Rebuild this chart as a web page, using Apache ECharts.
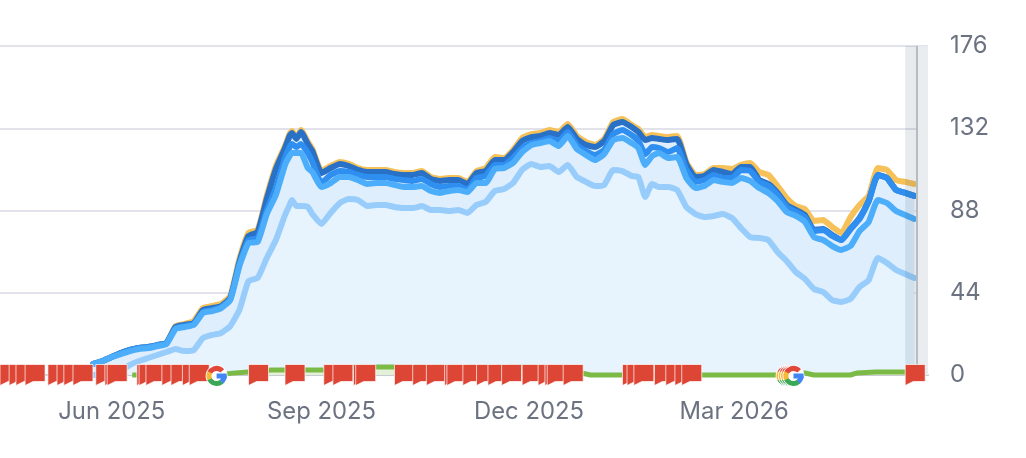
<!DOCTYPE html>
<html>
<head>
<meta charset="utf-8">
<style>html,body{margin:0;padding:0;background:#fff}#chart{width:1026px;height:458px}</style>
<script src="https://cdn.jsdelivr.net/npm/echarts@6/dist/echarts.min.js"></script>
</head>
<body>
<div id="chart"></div>
<script>
// Sample dates shared by the five visibility series.
const dates = [
  '2025-05-24','2025-05-28','2025-06-01','2025-06-05','2025-06-09','2025-06-13','2025-06-17','2025-06-21','2025-06-25','2025-06-29',
  '2025-07-03','2025-07-07','2025-07-11','2025-07-15','2025-07-19','2025-07-23','2025-07-27','2025-07-31',
  '2025-08-04','2025-08-08','2025-08-12','2025-08-16','2025-08-18','2025-08-19','2025-08-21','2025-08-23','2025-08-26','2025-08-28',
  '2025-09-01','2025-09-05','2025-09-09','2025-09-13','2025-09-17','2025-09-21','2025-09-25','2025-09-29',
  '2025-10-03','2025-10-07','2025-10-11','2025-10-15','2025-10-19','2025-10-23','2025-10-27','2025-10-31',
  '2025-11-04','2025-11-08','2025-11-12','2025-11-16','2025-11-20','2025-11-24','2025-11-28',
  '2025-12-02','2025-12-06','2025-12-10','2025-12-14','2025-12-18','2025-12-22','2025-12-26','2025-12-30',
  '2026-01-03','2026-01-07','2026-01-11','2026-01-15','2026-01-18','2026-01-21','2026-01-24','2026-01-27','2026-01-31',
  '2026-02-04','2026-02-08','2026-02-12','2026-02-16','2026-02-20','2026-02-24','2026-02-28',
  '2026-03-04','2026-03-08','2026-03-12','2026-03-16','2026-03-20','2026-03-24','2026-03-28',
  '2026-04-01','2026-04-05','2026-04-09','2026-04-13','2026-04-17','2026-04-21','2026-04-25','2026-04-29',
  '2026-05-03','2026-05-07','2026-05-11','2026-05-15','2026-05-19'
];
const orangeValues = [
  5.9,7.5,9.6,11.8,13.4,14.4,15,16,17.1,26.2,
  27.3,28.9,35.8,36.9,38,42.3,62.1,76,
  77.6,95.8,111.8,122.5,128.9,130.5,127.3,131.1,124.7,120.9,
  109.1,111.8,114,112.9,110.7,109.7,109.7,109.7,
  108.6,108.1,108.1,109.1,105.9,104.9,105.4,105.4,
  103.3,109.1,110.7,116.6,116.1,120.4,126.8,
  128.9,129.5,131.1,130,134.3,127.9,124.7,123.1,
  126.3,135.4,137,133.8,131.6,127.3,128.4,127.9,127.3,
  127.9,114,107,107.5,110.7,110.7,110.2,
  112.4,113.4,108.6,107,101.1,94.7,90.4,
  88.8,82.4,82.9,79.2,76,84.5,91,95.8,
  110.7,109.7,104.3,103.3,102.2
];
const darkValues = [
  5.9,7.5,9.6,11.8,13.4,14.4,15,16,17.1,25.7,
  26.8,27.8,34.8,35.8,36.9,41.2,60.5,74.4,
  76.5,94.2,110.2,121.4,127.9,129.5,126.3,130,123.6,119.8,
  108.1,110.7,112.9,111.8,109.7,108.6,108.6,108.6,
  107.5,107,107,108.1,104.9,103.8,104.3,104.3,
  102.2,108.1,109.1,115,115,119.3,125.2,
  127.3,127.9,129.5,128.4,132.7,126.3,123,122,
  125.2,133.8,135.4,132.7,130,125.7,126.8,126.3,125.7,
  126.3,112.9,105.9,106.5,109.7,108.6,107.5,
  111.3,111.3,104.3,102.2,97.4,91,88.3,
  85.6,77.6,78.1,74.9,72.2,78.1,84,93.1,
  107,105.4,99,97.4,95.8
];
const midValues = [
  5.9,7.5,9.6,11.8,13.4,14.4,15,16,17.1,25.1,
  26.2,27.3,33.7,34.8,36.4,40.7,59.4,72.2,
  73.3,88.3,100,116.1,122,123.6,122,123.6,118.8,114,
  102.7,107,109.1,108.6,107,105.9,105.9,105.9,
  104.9,104.3,103.8,104.9,102.2,100.6,101.1,101.1,
  99,105.4,106.5,112.4,112.4,116.1,121.4,
  124.1,125.2,126.8,125.2,130,123,119.8,117.7,
  120.4,128.9,131.1,128.4,125.2,118.2,122,121.4,119.3,
  121.4,109.7,103.3,104.3,107,105.4,105.4,
  109.7,109.1,103.3,101.1,96.3,89.9,87.2,
  84.5,77,77.6,74.4,72.2,78.1,83.5,93.1,
  107,105.4,99,97.4,95.8
];
const lightValues = [
  5.9,7.5,9.6,11.2,12.8,13.9,14.4,15.5,16.6,24.6,
  25.7,26.8,33.2,34.2,35.8,40.1,58.3,70.6,
  71.2,86.1,96.3,112.4,117.2,118.8,118.8,118.8,110.7,108.6,
  100.6,102.7,105.9,105.9,104.3,102.2,102.7,102.7,
  101.7,100.6,100.6,101.1,98.4,97.4,98.4,99,
  97.9,102.7,102.7,110.2,110.7,113.4,119.3,
  123,124.1,125.2,122.5,127.9,120.9,117.7,115,
  118.2,125.7,126.8,124.1,121.4,112.4,117.2,118.8,116.1,
  116.6,105.4,100,101.1,104.3,103.3,102.7,
  105.4,103.8,100,97.4,93.1,87.2,85.1,
  81.9,73.8,72.2,69,66.9,69,77,81.9,
  93.6,92,87.7,85.6,83.5
];
const paleValues = [
  0,0,0,2.1,5.4,7.5,9.1,10.7,12.3,13.9,
  12.8,13.4,19.8,21.4,22.5,26.2,34.8,50.3,
  51.9,62.6,72.2,85.6,91,93.6,90.4,90.4,89.9,86.1,
  80.8,86.7,92,94.2,93.6,90.4,91,91,
  89.9,89.3,89.3,90.4,88.3,88.3,87.7,88.3,
  86.7,91,92.6,98.4,99.5,102.7,109.7,
  112.9,111.3,111.8,108.6,112.4,105.9,103.3,101.1,
  101.7,109.7,109.1,106.5,105.9,95.2,102.2,100.6,100.6,
  99,89.9,86.1,84.5,85.1,86.1,84,
  78.6,73.8,73.3,72.2,65.8,61,55.1,
  51.4,46,44.4,40.1,39.1,40.7,47.1,50.8,
  62.6,59.9,56.2,54,51.9
];

// Low green series running along the baseline.
const greenDates = ['2025-06-10','2025-07-17','2025-07-24','2025-07-31','2025-08-10','2025-09-10','2025-09-16','2025-09-17','2025-12-17','2025-12-20','2025-12-24','2025-12-28','2026-01-11','2026-02-10','2026-03-27','2026-04-01','2026-04-05','2026-04-21','2026-04-24','2026-05-02','2026-05-20'];
const greenValues = [0,0,1,1.6,2.7,2.7,4.3,4.3,4.3,2.6,1.1,0,0,0,0,1.1,0,0,1.1,1.6,1.6];

// Annotation flags, dated by their pole.
const flagDates = [
  '2025-04-11','2025-04-13','2025-04-17','2025-04-20','2025-04-24','2025-05-04','2025-05-08','2025-05-11','2025-05-15','2025-05-25','2025-05-29','2025-05-30',
  '2025-06-12','2025-06-13','2025-06-16','2025-06-23','2025-06-27','2025-07-02','2025-07-05','2025-07-31','2025-08-16',
  '2025-09-02','2025-09-06','2025-09-15','2025-09-16','2025-10-03','2025-10-11','2025-10-17','2025-10-25','2025-10-26',
  '2025-11-02','2025-11-08','2025-11-13','2025-11-19','2025-11-28','2025-12-05','2025-12-08','2025-12-09','2025-12-16',
  '2026-01-11','2026-01-13','2026-01-16','2026-01-25','2026-01-30','2026-02-03','2026-02-06','2026-05-15'
];
// Google core update markers.
const updateDates = ['2025-07-17','2026-03-24','2026-03-25','2026-03-26','2026-03-27'];

const tickDates = ['2025-06-01','2025-09-01','2025-12-01','2026-03-01'];
const tickLabels = ['Jun 2025','Sep 2025','Dec 2025','Mar 2026'];

const axisMin = '2025-04-13';
const dataEnd = '2026-05-20';
const axisMax = '2026-05-25';
const partialStart = '2026-05-15';

const FLAG_PATH = 'path://M0 0H20V17H8L0 21Z';
const ts = s => Date.parse(s + 'T00:00:00Z');
const pairs = (xs, ys) => xs.map((x, i) => [ts(x), ys[i]]);

function lineSeries(name, values, color, z) {
  return {
    name, type: 'line', data: pairs(dates, values), z,
    symbol: 'none', smooth: 0.15, clip: false,
    lineStyle: { color, width: 6, join: 'round', cap: 'round' }
  };
}
// Filled layer from the baseline up to a series. Layers are painted tallest
// first, and each one lets the gridlines show through.
function fillSeries(name, values, color, opacity, z) {
  return {
    name, type: 'line', data: pairs(dates, values), z,
    symbol: 'none', smooth: 0.15,
    lineStyle: { width: 0 },
    areaStyle: { color, opacity }
  };
}

// Draws the multicoloured G badge for one update date.
function renderUpdate(params, api) {
  const [cx, cy] = api.coord([api.value(0), 0]);
  const r = 7.6, w = 5;
  const deg = d => d * Math.PI / 180;
  const arc = (a, b, stroke) => ({
    type: 'arc',
    shape: { cx, cy: cy + 1, r, startAngle: deg(a), endAngle: deg(b), clockwise: true },
    style: { stroke, fill: null, lineWidth: w }
  });
  return {
    type: 'group',
    children: [
      { type: 'circle', shape: { cx, cy: cy + 1, r: 11 }, style: { fill: '#fff' } },
      arc(205, 318, '#e0483a'),
      arc(152, 208, '#f7b93a'),
      arc(48, 155, '#3aa856'),
      arc(0, 50, '#4285f4'),
      { type: 'rect', shape: { x: cx, y: cy + 1 - w / 2, width: r + w / 2, height: w }, style: { fill: '#4285f4' } }
    ]
  };
}

const chart = echarts.init(document.getElementById('chart'), null, { renderer: 'canvas' });
chart.setOption({
  animation: false,
  backgroundColor: '#fff',
  grid: { left: 0, right: 98, top: 46, bottom: 83 },
  xAxis: {
    type: 'value',
    min: ts(axisMin),
    max: ts(axisMax),
    axisLine: { show: true, onZero: true, lineStyle: { color: '#c8cbcf', width: 2 } },
    axisTick: { show: false },
    splitLine: { show: false },
    axisLabel: {
      customValues: tickDates.map(ts),
      margin: 25,
      hideOverlap: false,
      color: '#6b7280',
      fontFamily: 'Inter',
      fontSize: 23.8,
      formatter: v => tickLabels[tickDates.map(ts).indexOf(+v)] || ''
    }
  },
  yAxis: {
    type: 'value',
    position: 'right',
    min: 0,
    max: 176,
    interval: 44,
    axisLine: { show: false },
    axisTick: { show: false },
    splitLine: { show: true, lineStyle: { color: '#e2e3ea', width: 2 } },
    axisLabel: {
      margin: 22,
      color: '#6b7280',
      fontFamily: 'Inter',
      fontSize: 23.8,
      padding: [0, 0, 4, 0]
    }
  },
  series: [
    fillSeries('fill to orange', orangeValues, '#f4f8fe', 0.75, 1),
    fillSeries('fill to dark', darkValues, '#dbebfd', 0.85, 1),
    fillSeries('fill to pale', paleValues, '#e9f4fe', 0.85, 1),
    {
      name: 'green', type: 'line', data: pairs(greenDates, greenValues), z: 2,
      symbol: 'none', clip: false,
      lineStyle: { color: '#7aba45', width: 5, join: 'round' },
      areaStyle: { color: '#e4f0d8', opacity: 1 }
    },
    lineSeries('orange', orangeValues, '#f6c158', 3),
    lineSeries('dark', darkValues, '#2871c6', 4),
    lineSeries('mid', midValues, '#2f8ff0', 5),
    lineSeries('light', lightValues, '#4cadfa', 6),
    lineSeries('pale', paleValues, '#98cdfb', 7),
    {
      name: 'partial period', type: 'line', data: [], z: 8, silent: true,
      markArea: {
        z: 8,
        silent: true,
        itemStyle: { color: 'rgba(40,70,90,0.11)' },
        data: [[{ xAxis: ts(partialStart), yAxis: 0 }, { xAxis: ts(dataEnd), yAxis: 176 }]]
      }
    },
    {
      name: 'future', type: 'line', data: [], z: 8, silent: true,
      markArea: {
        z: 8,
        silent: true,
        itemStyle: { color: '#e9edef' },
        data: [[{ xAxis: ts(dataEnd), yAxis: 0 }, { xAxis: ts(axisMax), yAxis: 176 }]]
      },
      markLine: {
        z: 9,
        silent: true,
        symbol: 'none',
        label: { show: false },
        lineStyle: { color: '#b6bcc1', width: 2, type: 'solid' },
        data: [{ xAxis: ts(dataEnd) }]
      }
    },
    {
      name: 'flags', type: 'scatter', data: flagDates.map(d => [ts(d), 0]), z: 10,
      symbol: FLAG_PATH, symbolSize: [20, 21], symbolOffset: [10, 0], clip: false,
      itemStyle: { color: '#dd4535', borderColor: '#fff', borderWidth: 0.7, opacity: 1 }
    },
    {
      name: 'updates', type: 'custom', data: updateDates.map(d => [ts(d)]), z: 11,
      clip: false, renderItem: renderUpdate, encode: { x: 0 }
    }
  ]
});
</script>
</body>
</html>
